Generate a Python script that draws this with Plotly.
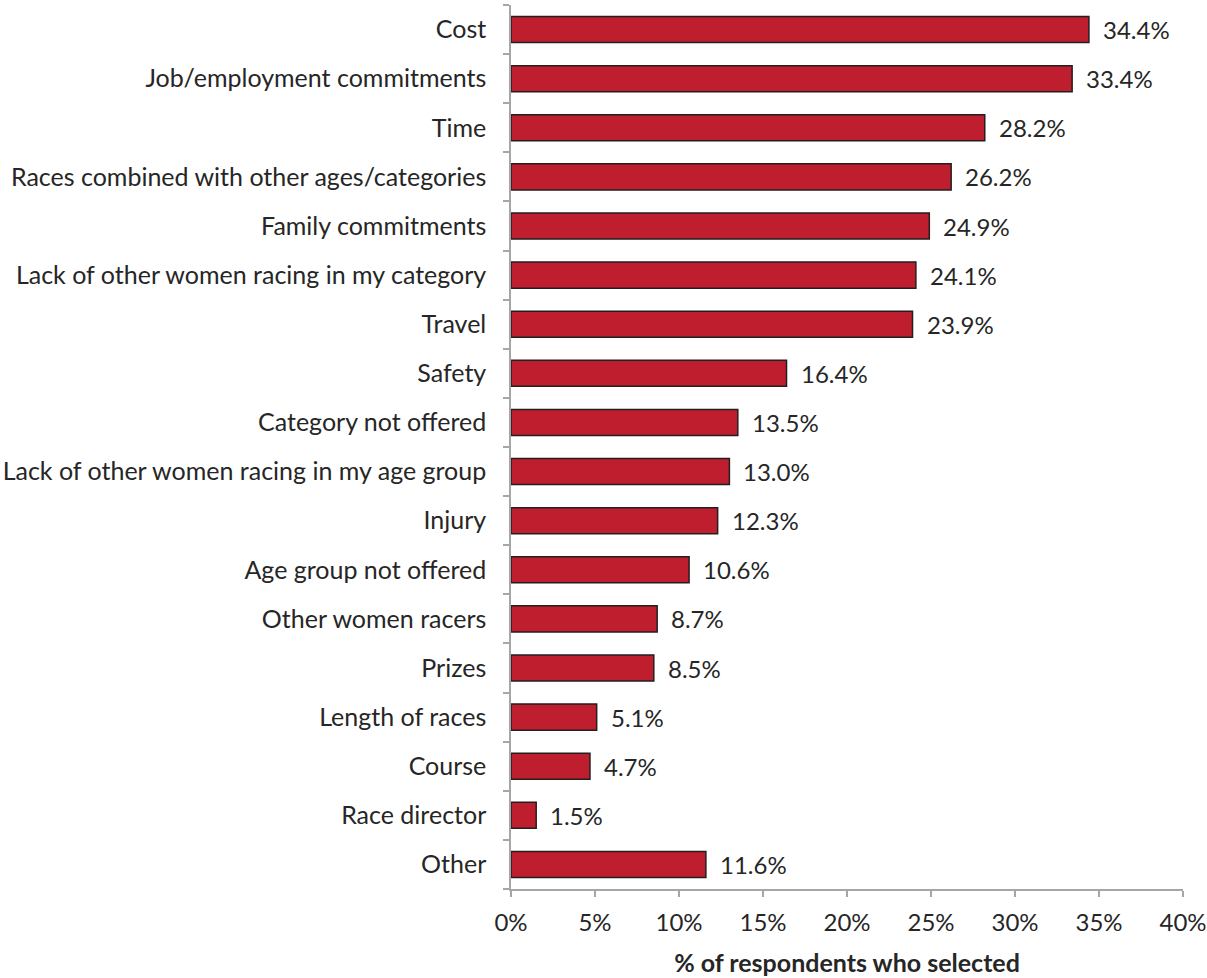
import plotly.graph_objects as go

categories = [
    "Cost",
    "Job/employment commitments",
    "Time",
    "Races combined with other ages/categories",
    "Family commitments",
    "Lack of other women racing in my category",
    "Travel",
    "Safety",
    "Category not offered",
    "Lack of other women racing in my age group",
    "Injury",
    "Age group not offered",
    "Other women racers",
    "Prizes",
    "Length of races",
    "Course",
    "Race director",
    "Other",
]
values = [34.4, 33.4, 28.2, 26.2, 24.9, 24.1, 23.9, 16.4, 13.5, 13.0,
          12.3, 10.6, 8.7, 8.5, 5.1, 4.7, 1.5, 11.6]

tick_vals = [0, 5, 10, 15, 20, 25, 30, 35, 40]
tick_text = [f"{v}%" for v in tick_vals]

font_family = "Lato, 'Open Sans', sans-serif"
font_size = 24
text_color = "#262626"
axis_color = "#A6A6A6"

fig = go.Figure(
    go.Bar(
        x=values,
        y=categories,
        orientation="h",
        marker=dict(color="#BE1E2D", line=dict(color="#231F20", width=1.5)),
        width=0.53,
        hoverinfo="skip",
    )
)

for cat, val in zip(categories, values):
    fig.add_annotation(
        x=val, y=cat, text=f"{val:.1f}%", showarrow=False,
        xanchor="left", xshift=12,
        font=dict(family=font_family, size=font_size, color=text_color),
    )

fig.update_layout(
    width=1207,
    height=978,
    margin=dict(l=511, r=24, t=5, b=89),
    paper_bgcolor="white",
    plot_bgcolor="white",
    showlegend=False,
    font=dict(family=font_family, size=font_size, color=text_color),
)

fig.update_yaxes(
    categoryorder="array",
    categoryarray=categories[::-1],
    showline=True, linecolor=axis_color, linewidth=1.5,
    ticks="outside", ticklen=6, tickcolor=axis_color, tickwidth=1.5,
    tickson="boundaries",
    showgrid=False, zeroline=False,
    automargin=False,
    ticklabelstandoff=18,
    tickfont=dict(family=font_family, size=25, color=text_color),
)

fig.update_xaxes(
    range=[0, 40],
    tickvals=tick_vals, ticktext=tick_text,
    showline=True, linecolor=axis_color, linewidth=1.5,
    ticks="outside", ticklen=6, tickcolor=axis_color, tickwidth=1.5,
    ticklabelstandoff=5,
    showgrid=False, zeroline=False,
    automargin=False,
    tickfont=dict(family=font_family, size=font_size, color=text_color),
    title=dict(text="<b>% of respondents who selected</b>", standoff=20,
               font=dict(family=font_family, size=25, color=text_color)),
)

fig.write_html("out.html")
